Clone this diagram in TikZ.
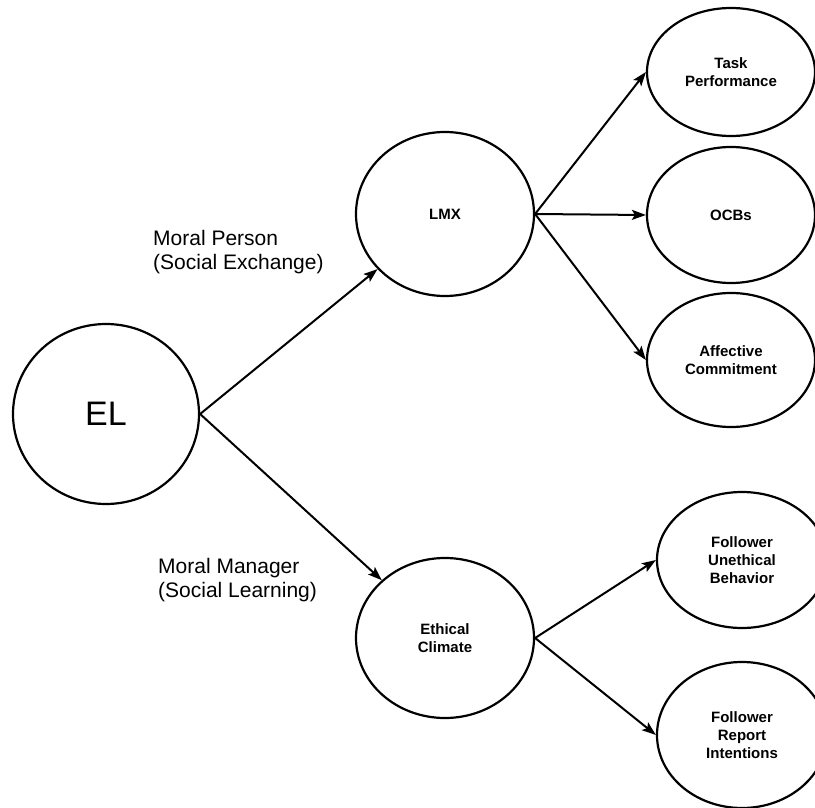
\documentclass[tikz,border=0pt]{standalone}
\usepackage{fontspec}
\setmainfont{Liberation Sans}
\usetikzlibrary{shapes.geometric,arrows.meta}
\begin{document}
\begin{tikzpicture}[x=1pt,y=-1pt,
  oval/.style={ellipse,draw,line width=2.2pt,inner sep=0pt,align=center,
    font=\fontsize{15}{18}\selectfont\bfseries},
  arr/.style={line width=2pt,-{Stealth[length=14pt,width=10pt,inset=3pt]}},
  lab/.style={anchor=west,align=left,inner sep=0pt,font=\fontsize{21}{24}\selectfont}]
\useasboundingbox (0,0) rectangle (815,808);
\fill[white] (0,0) rectangle (815,808);
\begin{scope}
\clip (0,0) rectangle (815,808);
\node[oval,minimum width=186pt,minimum height=180pt,font=\fontsize{34}{40}\selectfont] (EL) at (106,414) {EL};
\node[oval,minimum width=178pt,minimum height=164pt] (LMX) at (445,214) {LMX};
\node[oval,minimum width=178pt,minimum height=160pt] (EC) at (445,638) {Ethical\\Climate};
\node[oval,minimum width=168pt,minimum height=128pt] (TP) at (731,72) {Task\\Performance};
\node[oval,minimum width=168pt,minimum height=136pt] (OCB) at (731,215) {OCBs};
\node[oval,minimum width=168pt,minimum height=134pt] (AC) at (731,360) {Affective\\Commitment};
\node[oval,minimum width=170pt,minimum height=136pt] (FUB) at (742,560) {Follower\\Unethical\\Behavior};
\node[oval,minimum width=170pt,minimum height=146pt] (FRI) at (742,735) {Follower\\Report\\Intentions};
\end{scope}
\node[lab] (mp) at (153,252) {Moral Person\\(Social Exchange)};
\node[lab] (mm) at (158,580) {Moral Manager\\(Social Learning)};
\draw[arr] (EL.east) -- (LMX);
\draw[arr] (EL.east) -- (EC);
\draw[arr] (LMX.east) -- (TP.west);
\draw[arr] (LMX.east) -- (OCB.west);
\draw[arr] (LMX.east) -- (AC.west);
\draw[arr] (EC.east) -- (FUB.west);
\draw[arr] (EC.east) -- (FRI.west);
\end{tikzpicture}
\end{document}
